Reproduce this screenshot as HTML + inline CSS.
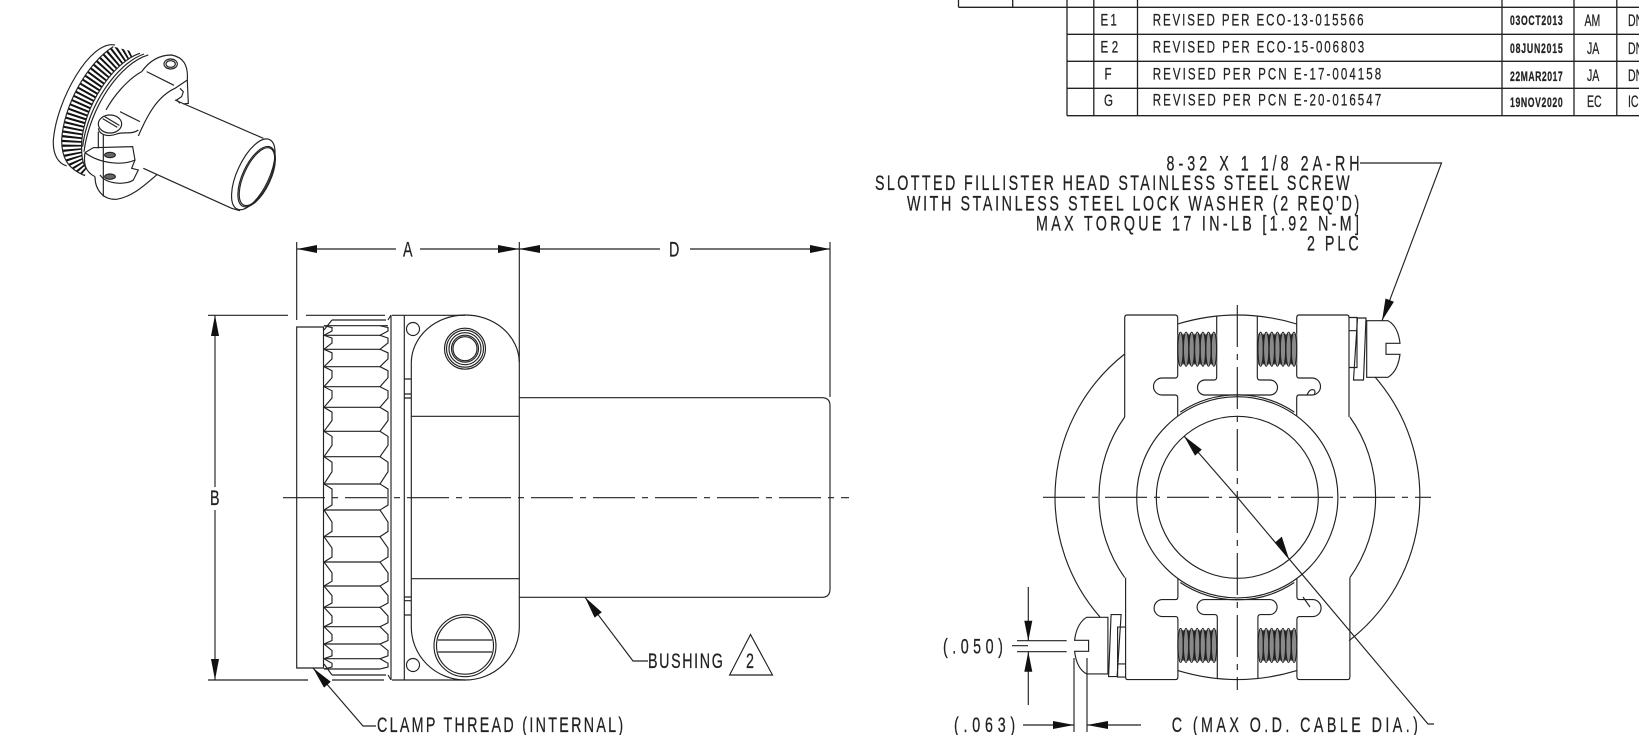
<!DOCTYPE html>
<html><head><meta charset="utf-8"><style>
html,body{margin:0;padding:0;background:#fff;width:1639px;height:735px;overflow:hidden}
svg{display:block}
text{font-family:"Liberation Sans",sans-serif;fill:#222;stroke:#222;stroke-width:.25}
.l{fill:none;stroke:#222;stroke-width:1.15}
.t{fill:none;stroke:#222;stroke-width:1.3}
.a{fill:#111;stroke:none}
.c{fill:none;stroke:#222;stroke-width:1.15;stroke-dasharray:42 7 6 7}
.f{font-size:21px}
.s{font-size:17px}
.d{font-size:14px;font-weight:bold}
</style></head><body>
<svg width="1639" height="735" viewBox="0 0 1639 735" xmlns="http://www.w3.org/2000/svg">
<defs>
<clipPath id="kn"><path d="M340 140C260 190 190 320 185 420C185 470 200 505 255 527L258 505C248 490 244 470 245 430C250 320 340 185 420 160Z"/></clipPath>
<g id="thr">
<rect x="0" y="2" width="39" height="31" fill="#8a8a8a"/>
<g class="l" stroke-width="1.3">
<ellipse cx="2.8" cy="17.5" rx="2.7" ry="17"/><ellipse cx="8.4" cy="17.5" rx="2.7" ry="17"/><ellipse cx="14" cy="17.5" rx="2.7" ry="17"/><ellipse cx="19.6" cy="17.5" rx="2.7" ry="17"/><ellipse cx="25.2" cy="17.5" rx="2.7" ry="17"/><ellipse cx="30.8" cy="17.5" rx="2.7" ry="17"/><ellipse cx="36.2" cy="17.5" rx="2.7" ry="17"/>
<path d="M5.6 3V32M11.2 3V32M16.8 3V32M22.4 3V32M28 3V32M33.6 3V32"/>
</g>
</g>
<g id="half">
<path class="l" d="M1124.7 417V318Q1124.7 315 1127 315H1175Q1177.7 315 1177.7 318V375Q1177.7 378 1175 378H1162A8.5 8.5 0 0 0 1162 395H1175Q1177.7 395 1177.7 398V416"/>
<path class="l" d="M1349 417V318Q1349 315 1347 315H1299Q1296.7 315 1296.7 318V375Q1296.7 378 1299 378H1312A8.5 8.5 0 0 1 1312 395H1299Q1296.7 395 1296.7 398V416"/>
<path class="l" d="M1177.7 324Q1237.3 306 1296.7 324"/>
<path class="l" d="M1216.7 315.5V377Q1216.7 380 1214 380H1205A7.5 7.5 0 0 0 1205 395H1270A7.5 7.5 0 0 0 1270 380H1260Q1257.3 380 1257.3 377V315.5"/>
<path class="l" d="M1180.3 412.1A102.5 102.5 0 0 1 1294.3 412.1"/>
<use href="#thr" x="1177.7" y="331.7"/><use href="#thr" x="1257.8" y="331.7"/>
<path class="l" d="M1349 317.5H1357V367.5H1349M1349 330.7H1357"/>
<path class="l" d="M1357.5 318H1366L1363.5 380H1353.5Z"/>
<path class="l" d="M1366.7 320.7H1388Q1398 326 1400 343.3H1386V354.3H1400Q1398 371 1388 377.3H1366.7Z"/>
</g>
</defs>

<!-- revision table -->
<g class="t">
<path d="M958.5 7.3H1639M1067 34.3H1639M1067 61.3H1639M1067 88.3H1639M1067 115.7H1639"/>
<path d="M958.5 0V7.3M1012.7 0V7.3M1067 0V115.7M1093.8 0V115.7M1137.5 0V115.7M1502 0V115.7M1574 0V115.7M1616.8 0V115.7"/>
</g>
<g class="s">
<text transform="translate(1100.5,25.5) scale(.68,1)" textLength="24">E1</text>
<text transform="translate(1100.5,52.5) scale(.68,1)" textLength="26">E2</text>
<text transform="translate(1104.5,79.5) scale(.68,1)">F</text>
<text transform="translate(1104,106) scale(.68,1)">G</text>
<text transform="translate(1152.7,25.5) scale(.68,1)" textLength="310">REVISED PER ECO-13-015566</text>
<text transform="translate(1152.7,52.5) scale(.68,1)" textLength="311">REVISED PER ECO-15-006803</text>
<text transform="translate(1152.7,79.5) scale(.68,1)" textLength="336">REVISED PER PCN E-17-004158</text>
<text transform="translate(1152.7,105.5) scale(.68,1)" textLength="336">REVISED PER PCN E-20-016547</text>
<text transform="translate(1584.5,26) scale(.62,1)">AM</text>
<text transform="translate(1587,54) scale(.62,1)">JA</text>
<text transform="translate(1587,81) scale(.62,1)">JA</text>
<text transform="translate(1587,107) scale(.62,1)">EC</text>
<text transform="translate(1628,26) scale(.62,1)">DN</text>
<text transform="translate(1628,54) scale(.62,1)">DN</text>
<text transform="translate(1628,81) scale(.62,1)">DN</text>
<text transform="translate(1628,107) scale(.62,1)">IC</text>
</g>
<g class="d">
<text transform="translate(1510,25) scale(.62,1)" textLength="85">03OCT2013</text>
<text transform="translate(1510,53) scale(.62,1)" textLength="85">08JUN2015</text>
<text transform="translate(1510,81) scale(.62,1)" textLength="85">22MAR2017</text>
<text transform="translate(1510,107) scale(.62,1)" textLength="85">19NOV2020</text>
</g>

<!-- isometric view -->
<g transform="scale(.3333)" fill="none" stroke="#222" stroke-width="3.5">
<path d="M345 135C270 120 170 300 160 420C158 465 175 490 200 498"/>
<g clip-path="url(#kn)"><path d="M385 145C300 185 215 320 212 430C210 470 225 510 260 530" stroke="#111" stroke-width="90" stroke-dasharray="6 7"/></g>
<path d="M340 140C260 190 190 320 185 420C185 470 200 505 255 527"/>
<path d="M420 160C340 185 250 320 245 430C244 470 248 490 258 505"/>
<path d="M445 165C360 190 270 320 252 455"/>
<path d="M432 162C350 190 262 320 248 440"/>
<path d="M425 215C450 180 480 165 515 165C550 172 565 195 562 240L525 265C470 290 440 350 415 408"/>
<path d="M425 215C380 240 340 290 318 330"/>
<path d="M440 215L522 256M360 335L420 365"/>
<ellipse cx="512" cy="192" rx="20" ry="15"/><ellipse cx="512" cy="192" rx="14" ry="10"/>
<path d="M562 240L565 310L550 312M540 265L550 275L545 290L530 300L540 310"/>
<path d="M525 300L790 415M430 505L695 625L720 632"/>
<ellipse cx="760" cy="523" rx="115" ry="48" transform="rotate(-65 760 523)" fill="#fff"/>
<ellipse cx="770" cy="530" rx="98" ry="42" transform="rotate(-65 770 530)"/>
<ellipse cx="771" cy="530" rx="94" ry="39" transform="rotate(-65 771 530)"/>
<ellipse cx="330" cy="372" rx="35" ry="27" fill="#fff"/>
<path d="M308 356L352 382M314 350L358 376M295 385C298 405 325 412 350 402C370 394 395 405 415 390"/>
<path d="M310 405V590M295 395V445"/>
<path d="M255 458L280 443L398 440L405 480C370 497 300 492 255 458"/>
<path d="M255 458C250 490 255 515 285 530M285 530C285 570 310 600 350 598C400 590 440 550 470 525"/>
<path d="M300 525C320 555 380 555 400 540L415 510L395 505L405 480"/>
<ellipse cx="330" cy="465" rx="16" ry="8" fill="#666"/><ellipse cx="330" cy="530" rx="16" ry="8" fill="#666"/>
</g>

<!-- side view -->
<path class="l" d="M296.7 242V320M296.7 327H323.5V668H296.7ZM519.3 242V362M830 242V397"/>
<path class="l" d="M297 249H396M420 249H540M540 249H660M690 249H830"/>
<polygon class="a" points="297,249 317,245 317,253"/><polygon class="a" points="519,249 498,245 498,253"/>
<polygon class="a" points="519,249 540,245 540,253"/><polygon class="a" points="830,249 810,245 810,253"/>
<text class="f" transform="translate(403,256.5) scale(.68,1)">A</text>
<text class="f" transform="translate(669,256.5) scale(.68,1)">D</text>
<path class="l" d="M208 315.3H288M306 315.3H385M392 315.3H465M208 680H308M332 680H384M392 680H465"/>
<path class="l" d="M215 315V487M215 510V680"/>
<polygon class="a" points="215,315 211,336 219,336"/><polygon class="a" points="215,680 211,659 219,659"/>
<text class="f" transform="translate(210,505) scale(.68,1)">B</text>
<path class="l" d="M391 315V680M404.3 315V680M391 315L388 320M391 680L388 675"/>
<path class="l" d="M404.3 379H411.3M404.3 394H411.3M404.3 398H411.3M404.3 597H411.3M404.3 600.7H411.3M404.3 615H411.3"/>
<path class="l" d="M465 315A54 48 0 0 1 519.3 362V627A54 53 0 0 1 465 680A54 53 0 0 1 411.3 627V363A54 48 0 0 1 465 315Z"/>
<path class="l" d="M411.3 416.3H519.3M411.3 578.7H519.3"/>
<circle class="l" cx="413" cy="329" r="6.5"/><circle class="l" cx="413" cy="665" r="6.5"/>
<circle class="l" cx="465" cy="348.7" r="20.5"/><circle class="l" cx="465" cy="348.7" r="18.5"/><circle class="l" cx="465" cy="348.7" r="16"/><circle class="l" cx="465" cy="348.7" r="13.5"/><circle class="l" cx="465" cy="348.7" r="12"/>
<circle class="l" cx="465" cy="645.7" r="31"/><circle class="l" cx="465" cy="645.7" r="28.5"/>
<path class="l" d="M438 640H492M438 652H492"/>
<path class="l" d="M519.3 397.7H822Q830 397.7 830 405.7V589Q830 597.3 822 597.3H519.3"/>
<!-- knurl -->
<path class="l" d="M332 320H386M324 325.7H388M324 335.3H380M324 349.3H380M324 366.7H380M324 386.7H380M324 407.3H380M324 431.3H380M324 456.7H380M324 484H380M324 510H380M324 536.7H380M324 562H380M324 586H380M324 607.3H380M324 626.7H380M324 644H380M324 658.7H380M324 669H380M332 675H386M324 330L332 320M324 664L332 675"/>
<path class="l" d="M324 325.7L332 327.6V331L324 335.3L332 338.1V343L324 349.3L332 352.8V358.9L324 366.7L332 370.7V377.7L324 386.7L332 390.8V398L324 407.3L332 412.1V420.5L324 431.3L332 436.4V445.3L324 456.7L332 462.2V471.7L324 484L332 489V505L324 510L332 522V531.4L324 536.7L332 548V557L324 562L332 572.8V581.2L324 586L332 595.6V603L324 607.3L332 616V622.8L324 626.7L332 634.5V640.5L324 644L332 650.6V655.8L324 658.7L332 663.3V667L324 669"/>
<path class="l" d="M380 325.7L388 327.6V331L380 335.3L388 338.1V343L380 349.3L388 352.8V358.9L380 366.7L388 370.7V377.7L380 386.7L388 390.8V398L380 407.3L388 412.1V420.5L380 431.3L388 436.4V445.3L380 456.7L388 462.2V471.7L380 484L388 489V505L380 510L388 522V531.4L380 536.7L388 548V557L380 562L388 572.8V581.2L380 586L388 595.6V603L380 607.3L388 616V622.8L380 626.7L388 634.5V640.5L380 644L388 650.6V655.8L380 658.7L388 663.3V667L380 669"/>
<path class="c" d="M283 497.7H849"/>
<!-- leaders -->
<path class="l" d="M313 668L363 726H376M585 597.3L633 661H648"/>
<polygon class="a" points="313,668 330.8,681.8 324,687.6"/><polygon class="a" points="585,597.3 601.8,612.2 594.6,617.6"/>
<text class="f" transform="translate(377,732) scale(.68,1)" textLength="362">CLAMP THREAD (INTERNAL)</text>
<text class="f" transform="translate(648,668) scale(.68,1)" textLength="110">BUSHING</text>
<path class="l" d="M729.6 675H772.5L750.5 634.5Z"/>
<text class="f" transform="translate(746,668) scale(.68,1)">2</text>

<!-- callout -->
<g class="f">
<text transform="translate(1166.5,170.5) scale(.68,1)" textLength="284">8-32 X 1 1/8 2A-RH</text>
<text transform="translate(875,190) scale(.68,1)" textLength="698">SLOTTED FILLISTER HEAD STAINLESS STEEL SCREW</text>
<text transform="translate(907,210.5) scale(.68,1)" textLength="665">WITH STAINLESS STEEL LOCK WASHER (2 REQ'D)</text>
<text transform="translate(1036,230.5) scale(.68,1)" textLength="475">MAX TORQUE 17 IN-LB [1.92 N-M]</text>
<text transform="translate(1307,250.5) scale(.68,1)" textLength="76">2 PLC</text>
</g>
<path class="l" d="M1360 163H1441.5L1382 320.7"/>
<polygon class="a" points="1382,320.7 1393.9,301.7 1385.5,298.5"/>

<!-- front view -->
<circle class="l" cx="1237.3" cy="497.3" r="81"/>
<circle class="l" cx="1237.3" cy="497.3" r="100.6"/>
<path class="l" d="M1124.7 417A138.3 138.3 0 0 0 1124.7 577.6M1349.9 417A138.3 138.3 0 0 1 1349.9 577.6"/>
<path class="l" d="M1124.7 354A182 182 0 0 0 1100 617M1375 377A182 182 0 0 1 1349 640.7"/>
<use href="#half"/>
<use href="#half" transform="rotate(180 1237.3 497.3)"/>
<path class="l" d="M1307 395Q1310 388 1314 390Q1316 392 1314 395M1303 597L1310 607"/>
<path class="c" d="M1237.3 305V690"/>
<path class="c" d="M1043 497.3H1431"/>
<path class="l" d="M1184 436L1237.3 497.3L1428 724H1434"/>
<polygon class="a" points="1184,436 1201.8,449.6 1195,455.6"/>
<polygon class="a" points="1289,559 1275,542.6 1281.8,536.6"/>
<path class="l" d="M1028.3 587V640.7M1028.3 651.7V705M1017 640.7H1066.7M1017 651.7H1066.7M1012 645.7H1028"/>
<polygon class="a" points="1028.3,640.7 1024.3,620.7 1032.3,620.7"/><polygon class="a" points="1028.3,651.7 1024.3,671.7 1032.3,671.7"/>
<path class="l" d="M1074 658V732M1087 658V732M1023 725H1074M1087 725H1141"/>
<polygon class="a" points="1074,725 1053,721 1053,729"/><polygon class="a" points="1087,725 1108,721 1108,729"/>
<text class="f" transform="translate(943,653.5) scale(.68,1)" textLength="88">(.050)</text>
<text class="f" transform="translate(954,732) scale(.68,1)" textLength="90">(.063)</text>
<text class="f" transform="translate(1171.7,732) scale(.68,1)" textLength="362">C (MAX O.D. CABLE DIA.)</text>
</svg>
</body></html>
